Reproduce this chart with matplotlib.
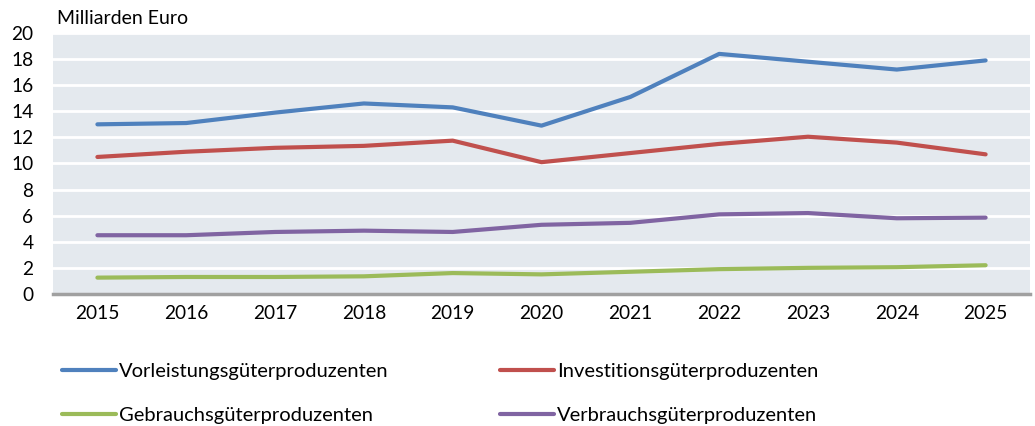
import matplotlib.pyplot as plt

years = [2015, 2016, 2017, 2018, 2019, 2020, 2021, 2022, 2023, 2024, 2025]
vorleistung = [13.0, 13.1, 13.9, 14.6, 14.3, 12.9, 15.1, 18.4, 17.8, 17.2, 17.9]
investition = [10.5, 10.9, 11.2, 11.35, 11.75, 10.1, 10.8, 11.5, 12.05, 11.6, 10.7]
gebrauch = [1.25, 1.3, 1.3, 1.35, 1.6, 1.5, 1.7, 1.9, 2.0, 2.05, 2.2]
verbrauch = [4.5, 4.5, 4.75, 4.85, 4.75, 5.3, 5.45, 6.1, 6.2, 5.8, 5.85]

plt.rcParams['font.family'] = ['Lato', 'DejaVu Sans']

fig = plt.figure(figsize=(10.35, 4.26), dpi=100)
ax = fig.add_axes([0.0512, 0.310, 0.944, 0.6125])
ax.set_facecolor('#E4E9EE')

x = range(len(years))
l1, = ax.plot(x, vorleistung, color='#4F81BD', lw=3, solid_capstyle='round',
              label='Vorleistungsgüterproduzenten')
l2, = ax.plot(x, investition, color='#C0504D', lw=3, solid_capstyle='round',
              label='Investitionsgüterproduzenten')
l3, = ax.plot(x, gebrauch, color='#9BBB59', lw=3, solid_capstyle='round',
              label='Gebrauchsgüterproduzenten')
l4, = ax.plot(x, verbrauch, color='#8064A2', lw=3, solid_capstyle='round',
              label='Verbrauchsgüterproduzenten')

ax.set_xlim(-0.5, len(years) - 0.5)
ax.set_ylim(0, 20)
ax.set_yticks(range(0, 21, 2))
ax.set_xticks(list(x))
ax.set_xticklabels([str(y) for y in years])
ax.yaxis.grid(True, color='white', lw=2)
ax.set_axisbelow(True)
ax.tick_params(axis='both', length=0, labelsize=13.8, pad=8)
ax.tick_params(axis='y', pad=14)
for s in ['top', 'right', 'left']:
    ax.spines[s].set_visible(False)
ax.spines['bottom'].set_color('#A0A0A0')
ax.spines['bottom'].set_linewidth(2.5)

fig.text(0.055, 0.957, 'Milliarden Euro', fontsize=14, va='center', ha='left')

# legend in two columns below the plot
fig.legend(handles=[l1, l3, l2, l4], ncol=2, loc='upper left',
           bbox_to_anchor=(0.0599, 0.148), frameon=False, fontsize=14.5,
           borderpad=0, borderaxespad=0,
           handlelength=2.7, handletextpad=0.15, columnspacing=5.5,
           labelspacing=1.35)

fig.savefig('out.png', dpi=100)
